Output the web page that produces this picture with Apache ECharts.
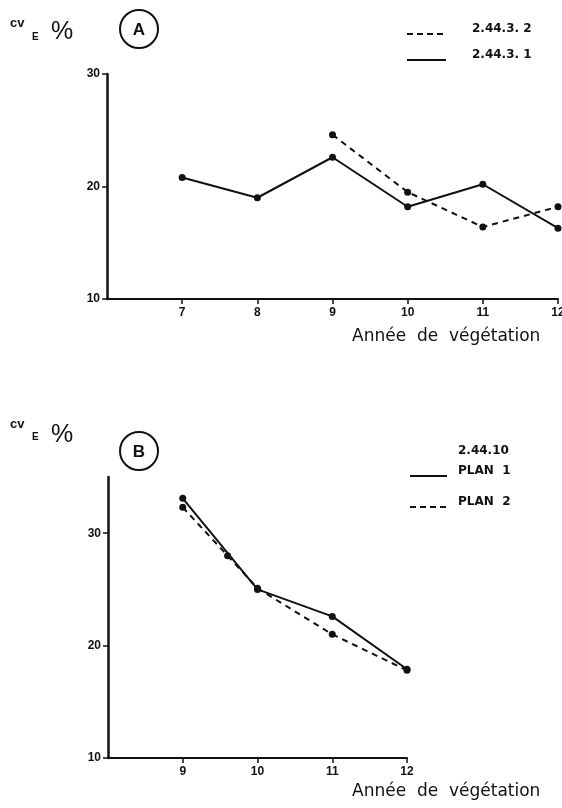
<!DOCTYPE html>
<html lang="fr">
<head>
    <meta charset="UTF-8">
    <title>CV_E %</title>
    <script type="text/javascript" src="https://cdn.jsdelivr.net/npm/echarts@6/dist/echarts.min.js"></script>
    <style>
        html, body { margin: 0; padding: 0; background: #fff; }
    </style>
</head>
<body>
<div id="main" style="width:562px;height:808px;"></div>

<script type="text/javascript">
    // graphique A
    var anneesA = [7, 8, 9, 10, 11, 12];
    var serie_2_44_3_1 = [20.8, 19.0, 22.6, 18.2, 20.2, 16.3];
    var anneesA2 = [9, 10, 11, 12];
    var serie_2_44_3_2 = [24.6, 19.5, 16.4, 18.2];

    // graphique B
    var anneesB = [9, 10, 11, 12];
    var plan1 = [33.1, 25.0, 22.6, 17.9];
    var anneesP2 = [9, 9.6, 10, 11, 12];
    var plan2 = [32.3, 28.0, 25.1, 21.0, 17.8];

    var yTicks = [10, 20, 30];

    function pairs(xs, ys) {
        var out = [];
        for (var i = 0; i < xs.length; i++) {
            out.push([xs[i], ys[i]]);
        }
        return out;
    }

    var noir = '#111';
    var fontTick = { color: noir, fontSize: 12, fontWeight: 'bold', fontFamily: 'Liberation Sans' };

    function axeX(idx, min, max, labels) {
        return {
            gridIndex: idx, type: 'value', min: min, max: max, interval: 1,
            axisLine: { onZero: false, lineStyle: { color: noir, width: 2 } },
            axisTick: { customValues: labels, length: 5, lineStyle: { color: noir, width: 1.5 } },
            axisLabel: Object.assign({ customValues: labels, margin: 8 }, fontTick),
            splitLine: { show: false }
        };
    }

    function axeY(idx, max) {
        return {
            gridIndex: idx, type: 'value', min: 10, max: max, interval: 10,
            axisLine: { show: true, onZero: false, lineStyle: { color: noir, width: 2.5 } },
            axisTick: { show: true, customValues: yTicks, length: 5, lineStyle: { color: noir, width: 1.5 } },
            axisLabel: Object.assign({ customValues: yTicks, margin: 7, verticalAlign: 'middle', padding: [0, 0, 5, 0] }, fontTick),
            splitLine: { show: false }
        };
    }

    function courbe(xi, data, pointille) {
        return {
            type: 'line', xAxisIndex: xi, yAxisIndex: xi, data: data,
            symbol: 'circle', symbolSize: 7,
            itemStyle: { color: noir },
            lineStyle: { color: noir, width: 2, type: pointille ? [6, 5] : 'solid' },
            silent: true, animation: false
        };
    }

    // "cv E %" : cy = centre de "cv", ey = centre de "E", py = centre de "%"
    function titreCv(cy, ey, py) {
        return [
            { type: 'text', left: 10, top: cy - 8, style: { text: 'cv', fontSize: 13, fontWeight: 'bold', fontFamily: 'Liberation Sans', fill: noir } },
            { type: 'text', left: 32, top: ey - 6, style: { text: 'E', fontSize: 10, fontWeight: 'bold', fontFamily: 'Liberation Sans', fill: noir } },
            { type: 'text', left: 51, top: py - 14, style: { text: '%', fontSize: 25, fontFamily: 'Liberation Sans', fill: noir } }
        ];
    }

    function rond(cx, cy, lettre) {
        return [
            { type: 'circle', shape: { cx: cx, cy: cy, r: 19 }, style: { fill: 'none', stroke: noir, lineWidth: 2 } },
            { type: 'text', x: cx, y: cy + 1, style: { text: lettre, fontSize: 17, fontWeight: 'bold', fontFamily: 'Liberation Sans', fill: noir, align: 'center', verticalAlign: 'middle' } }
        ];
    }

    function legendeLigne(x1, x2, y, pointille) {
        return { type: 'line', shape: { x1: x1, y1: y, x2: x2, y2: y },
            style: { stroke: noir, lineWidth: 2, lineDash: pointille ? [6, 4] : null } };
    }

    function legendeTexte(x, cy, t) {
        return { type: 'text', left: x, top: cy - 7, style: { text: t, fontSize: 12, fontWeight: 'bold', fontFamily: 'DejaVu Sans', fill: noir } };
    }

    function annee(x, y) {
        return { type: 'text', left: x, top: y, style: { text: 'Année  de  végétation', fontSize: 17, fontFamily: 'DejaVu Sans', fill: noir } };
    }

    var graphiques = []
        .concat(titreCv(25, 38, 34), titreCv(426, 438, 437))
        .concat(rond(139, 29, 'A'), rond(139, 451, 'B'))
        .concat([
            legendeLigne(407, 446, 34, true), legendeTexte(472, 30, '2.44.3. 2'),
            legendeLigne(407, 446, 60, false), legendeTexte(472, 56, '2.44.3. 1'),
            legendeTexte(458, 452, '2.44.10'),
            legendeLigne(410, 447, 476, false), legendeTexte(458, 472, 'PLAN  1'),
            legendeLigne(410, 447, 507, true), legendeTexte(458, 503, 'PLAN  2'),
            annee(352, 328), annee(352, 783)
        ]);

    var chart = echarts.init(document.getElementById('main'), null, { renderer: 'canvas' });

    var option = {
        backgroundColor: '#fff',
        animation: false,
        grid: [
            { left: 107, top: 74, width: 451, height: 225, outerBoundsMode: 'none' },
            { left: 108, top: 477, width: 299, height: 281, outerBoundsMode: 'none' }
        ],
        xAxis: [
            axeX(0, 6, 12, anneesA),
            axeX(1, 8, 12, anneesB)
        ],
        yAxis: [
            axeY(0, 30),
            axeY(1, 35)
        ],
        series: [
            courbe(0, pairs(anneesA, serie_2_44_3_1), false),
            courbe(0, pairs(anneesA2, serie_2_44_3_2), true),
            courbe(1, pairs(anneesB, plan1), false),
            courbe(1, pairs(anneesP2, plan2), true)
        ],
        graphic: graphiques
    };

    chart.setOption(option);
</script>
</body>
</html>
